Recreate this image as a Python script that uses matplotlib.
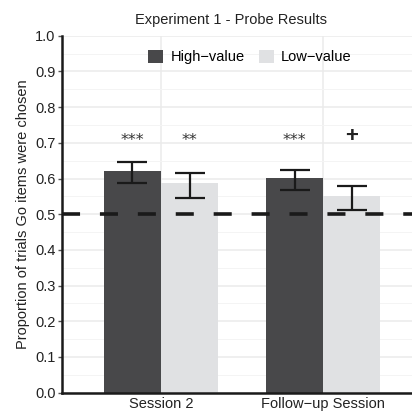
import matplotlib
matplotlib.use("Agg")
import matplotlib.pyplot as plt
import numpy as np
from matplotlib.patches import Patch

plt.rcParams['font.family'] = ['Liberation Sans', 'DejaVu Sans']

sessions = ["Session 2", "Follow\u2212up Session"]
groups = ["High\u2212value", "Low\u2212value"]
means_high = [0.621, 0.601]
means_low = [0.588, 0.551]
err_high_lo = [0.588, 0.568]
err_high_hi = [0.647, 0.625]
err_low_lo = [0.546, 0.513]
err_low_hi = [0.616, 0.580]
sig_high = ["***", "***"]
sig_low = ["**", "+"]
sig_y = 0.71
chance = 0.5
yticks = [0.0, 0.1, 0.2, 0.3, 0.4, 0.5, 0.6, 0.7, 0.8, 0.9, 1.0]

col_high = "#48484a"
col_low = "#e0e1e3"

fig = plt.figure(figsize=(4.12, 4.12), dpi=100)
ax = fig.add_axes([62/412, 1 - 392.7/412, 1 - 62/412, 357/412])

x = np.arange(1, len(sessions) + 1)
w = 0.352
ax.bar(x - w/2, means_high, width=w, color=col_high, zorder=2)
ax.bar(x + w/2, means_low, width=w, color=col_low, zorder=2)

for xi, m, lo, hi in zip(x - w/2, means_high, err_high_lo, err_high_hi):
    ax.errorbar(xi, m, yerr=[[m - lo], [hi - m]], fmt='none', ecolor='#1a1a1a',
                elinewidth=1.6, capsize=11, capthick=1.6, zorder=3)
for xi, m, lo, hi in zip(x + w/2, means_low, err_low_lo, err_low_hi):
    ax.errorbar(xi, m, yerr=[[m - lo], [hi - m]], fmt='none', ecolor='#1a1a1a',
                elinewidth=1.6, capsize=11, capthick=1.6, zorder=3)

def put_sig(xi, s):
    if s == "+":
        ax.text(xi, sig_y + 0.008, s, ha='center', va='center', fontsize=16,
                color='#222222', zorder=4, fontweight='bold')
    else:
        ax.text(xi, sig_y - 0.004, s, ha='center', va='center', fontsize=11.5,
                color='#333333', zorder=4, fontfamily=['DejaVu Sans'])

for xi, s in zip(x - w/2, sig_high):
    put_sig(xi, s)
for xi, s in zip(x + w/2, sig_low):
    put_sig(xi, s)

ax.axhline(chance, color='#1a1a1a', linewidth=2.6, linestyle=(0, (5, 5.5)), zorder=5)

ax.set_ylim(0, 1.0)
ax.set_xlim(0.389, 2.549)
ax.set_yticks(yticks)
ax.set_yticklabels([f"{t:.1f}" for t in yticks])
ax.set_yticks(np.arange(0.05, 1.0, 0.1), minor=True)
ax.set_xticks(x)
ax.set_xticklabels(sessions)

ax.grid(True, which='major', color='#ebebeb', linewidth=1.1, zorder=0)
ax.grid(True, which='minor', axis='y', color='#f4f4f4', linewidth=0.7, zorder=0)
ax.set_axisbelow(True)

for s in ['top', 'right']:
    ax.spines[s].set_visible(False)
ax.spines['left'].set_linewidth(1.8)
ax.spines['bottom'].set_linewidth(1.8)
ax.spines['left'].set_color('#1a1a1a')
ax.spines['bottom'].set_color('#1a1a1a')

ax.tick_params(axis='y', which='major', length=3, width=1, color='#555555',
               labelsize=10.5, labelcolor='#222222', pad=1.5)
ax.tick_params(axis='y', which='minor', length=0)
ax.tick_params(axis='x', length=0, labelsize=10.5, labelcolor='#222222', pad=3)

ax.set_ylabel("Proportion of trials Go items were chosen", fontsize=10.5, color='#222222', labelpad=4)
fig.text(231/412, 1 - 20/412, "Experiment 1 - Probe Results", ha='center', va='center',
         fontsize=10.5, color='#222222')

handles = [Patch(facecolor=col_high), Patch(facecolor=col_low)]
leg = ax.legend(handles, groups, ncol=2, loc='center', frameon=False,
                fontsize=10.5, handlelength=1.0, handleheight=1.0, handletextpad=0.5,
                columnspacing=1.0)
leg.set_bbox_to_anchor(((250 - 62) / 350, (392.7 - 57) / 357), transform=ax.transAxes)

fig.savefig("out.png", dpi=100)
